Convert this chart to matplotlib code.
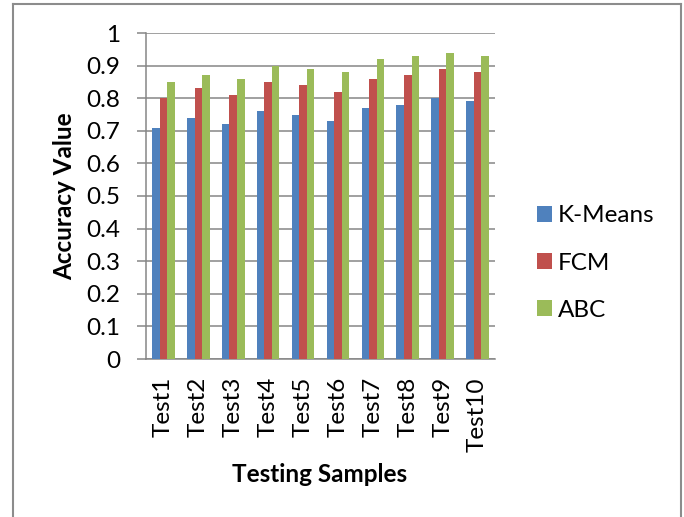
import matplotlib
matplotlib.use("Agg")
import matplotlib.pyplot as plt
import numpy as np
from matplotlib.patches import Patch
from matplotlib.lines import Line2D

categories = ["Test1", "Test2", "Test3", "Test4", "Test5",
              "Test6", "Test7", "Test8", "Test9", "Test10"]
kmeans = [0.71, 0.74, 0.72, 0.76, 0.75, 0.73, 0.77, 0.78, 0.80, 0.79]
fcm = [0.80, 0.83, 0.81, 0.85, 0.84, 0.82, 0.86, 0.87, 0.89, 0.88]
abc = [0.85, 0.87, 0.86, 0.90, 0.89, 0.88, 0.92, 0.93, 0.94, 0.93]
series_names = ["K-Means", "FCM", "ABC"]
yticks = [0, 0.1, 0.2, 0.3, 0.4, 0.5, 0.6, 0.7, 0.8, 0.9, 1]
ytick_labels = ["0", "0.1", "0.2", "0.3", "0.4", "0.5", "0.6", "0.7", "0.8", "0.9", "1"]

colors = ["#4F81BD", "#C0504D", "#9BBB59"]
grid_color = "#868686"
FS = 17.5

plt.rcParams["font.family"] = ["Lato", "DejaVu Sans"]

W, H = 684, 517
fig = plt.figure(figsize=(W / 100, H / 100), dpi=100)
ax = fig.add_axes([146 / W, 1 - 359 / H, (495 - 146) / W, (359 - 33) / H])

x = np.arange(len(categories))
bw = 0.215
for i, (vals, c, name) in enumerate(zip([kmeans, fcm, abc], colors, series_names)):
    ax.bar(x + (i - 1) * bw, vals, width=bw, color=c, edgecolor="none", label=name, zorder=3)

ax.set_xlim(-0.5, len(categories) - 0.5)
ax.set_ylim(0, 1)
ax.set_yticks(yticks)
ax.set_yticklabels(ytick_labels, fontsize=FS)
ax.set_xticks(x)
ax.set_xticklabels(categories, rotation=90, fontsize=FS)
ax.tick_params(axis="x", length=0, pad=13)
ax.tick_params(axis="y", length=6.5, width=1.1, color=grid_color, pad=12)
ax.yaxis.grid(True, color=grid_color, linewidth=1.1, zorder=0)
ax.set_axisbelow(True)
for s in ["top", "right"]:
    ax.spines[s].set_visible(False)
for s in ["left", "bottom"]:
    ax.spines[s].set_color(grid_color)
    ax.spines[s].set_linewidth(1.1)

fig.text(320 / W, 1 - 475 / H, "Testing Samples", fontsize=FS, fontweight="bold",
         ha="center", va="center")
fig.text(65 / W, 1 - 196 / H, "Accuracy Value", fontsize=FS, fontweight="bold",
         ha="center", va="center", rotation=90)

handles = [Patch(facecolor=c, edgecolor="none") for c in colors]
fig.legend(handles, series_names, loc="center left",
           bbox_to_anchor=(537 / W, 1 - 263 / H), frameon=False, fontsize=FS,
           borderpad=0, borderaxespad=0, handlelength=0.62, handleheight=0.62,
           handletextpad=0.25, labelspacing=1.07)

# outer chart border (left, top, right)
bc = "#8C8C8C"
fig.add_artist(Line2D([13 / W, 13 / W], [0, 1 - 4 / H], transform=fig.transFigure, color=bc, lw=1.5))
fig.add_artist(Line2D([13 / W, 681 / W], [1 - 4 / H, 1 - 4 / H], transform=fig.transFigure, color=bc, lw=1.5))
fig.add_artist(Line2D([681 / W, 681 / W], [0, 1 - 4 / H], transform=fig.transFigure, color=bc, lw=1.5))

fig.savefig("out.png", dpi=100)
